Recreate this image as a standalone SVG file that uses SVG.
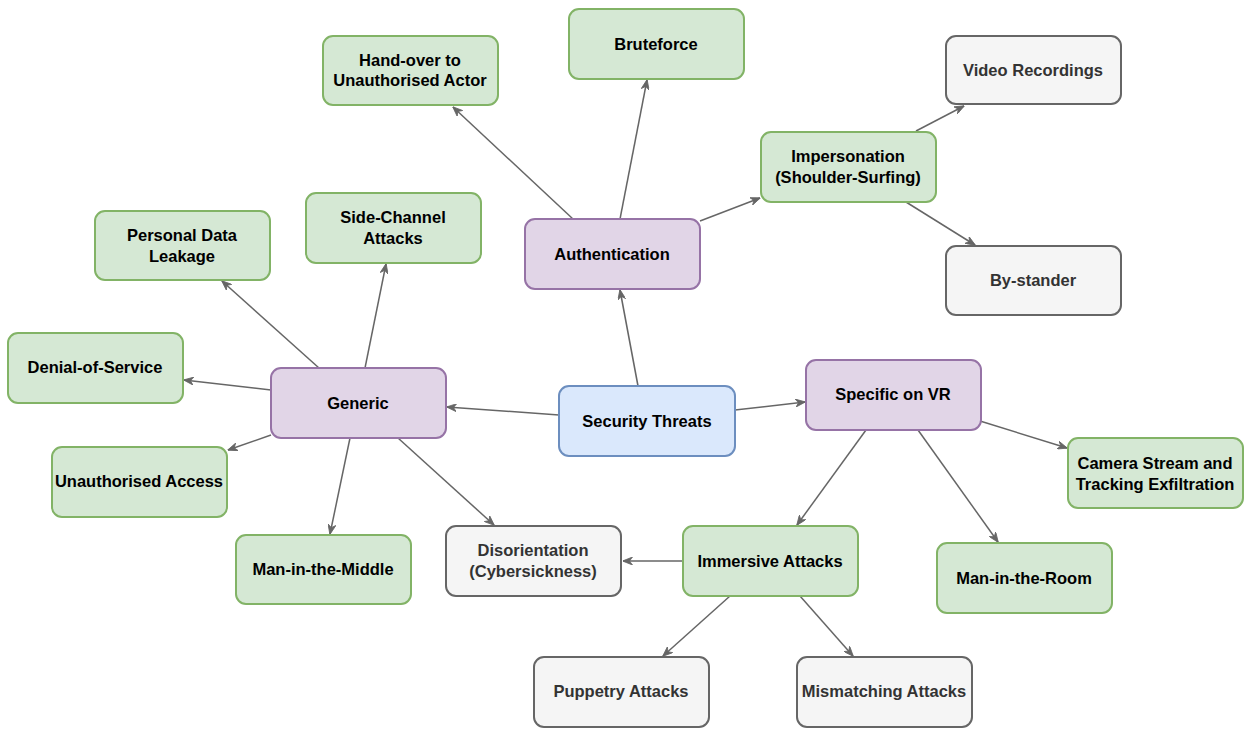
<svg xmlns="http://www.w3.org/2000/svg" width="1244" height="729" viewBox="0 0 1244 729">
<defs>
<marker id="arr" viewBox="0 0 10 8" refX="9.5" refY="4" markerWidth="10" markerHeight="8" markerUnits="userSpaceOnUse" orient="auto">
<path d="M0,0 L10,4 L0,8 L3,4 z" fill="#666666" stroke="#666666" stroke-width="0.8" stroke-linejoin="miter"/>
</marker>
</defs>
<style>
.n rect{stroke-width:2}
.g rect{fill:#d5e8d4;stroke:#82b366}
.p rect{fill:#e1d5e7;stroke:#9673a6}
.b rect{fill:#dae8fc;stroke:#6c8ebf}
.s rect{fill:#f5f5f5;stroke:#666666}
.n text{font-family:"Liberation Sans",Arial,sans-serif;font-weight:bold;font-size:16.5px;text-anchor:middle;fill:#000}
.s text{fill:#333333}
#edges line{stroke:#666666;stroke-width:1.5;fill:none;marker-end:url(#arr)}
</style>
<rect width="1244" height="729" fill="#ffffff"/>
<g id="edges">
<line x1="559" y1="415" x2="447" y2="407"/>
<line x1="638" y1="386" x2="620" y2="290"/>
<line x1="735" y1="410" x2="805" y2="402"/>
<line x1="573" y1="219" x2="453" y2="107"/>
<line x1="620" y1="219" x2="647" y2="80"/>
<line x1="700" y1="221" x2="760" y2="198"/>
<line x1="916" y1="131" x2="964" y2="106"/>
<line x1="906" y1="202" x2="975" y2="245"/>
<line x1="319" y1="368" x2="222" y2="281"/>
<line x1="365" y1="368" x2="386" y2="264"/>
<line x1="271" y1="390" x2="184" y2="380"/>
<line x1="271" y1="435" x2="228" y2="450"/>
<line x1="350" y1="438" x2="330" y2="534"/>
<line x1="398" y1="438" x2="494" y2="525"/>
<line x1="866" y1="430" x2="797" y2="525"/>
<line x1="918" y1="430" x2="998" y2="542"/>
<line x1="980" y1="421" x2="1067" y2="448"/>
<line x1="683" y1="561" x2="623" y2="561"/>
<line x1="730" y1="596" x2="663" y2="656"/>
<line x1="800" y1="596" x2="853" y2="656"/>
</g>
<g id="security-threats" class="n b"><rect x="559" y="386" width="176" height="70" rx="10"/><text x="647" y="427">Security Threats</text></g>
<g id="generic" class="n p"><rect x="271" y="368" width="175" height="70" rx="10"/><text x="358" y="409">Generic</text></g>
<g id="authentication" class="n p"><rect x="525" y="219" width="175" height="70" rx="10"/><text x="612" y="260">Authentication</text></g>
<g id="specific-vr" class="n p"><rect x="806" y="360" width="175" height="70" rx="10"/><text x="893" y="400">Specific on VR</text></g>
<g id="bruteforce" class="n g"><rect x="569" y="9" width="175" height="70" rx="10"/><text x="656" y="50">Bruteforce</text></g>
<g id="hand-over" class="n g"><rect x="323" y="36" width="175" height="69" rx="10"/><text x="410" y="66">Hand-over to</text><text x="410" y="86">Unauthorised Actor</text></g>
<g id="impersonation" class="n g"><rect x="761" y="132" width="175" height="70" rx="10"/><text x="848" y="162">Impersonation</text><text x="848" y="183">(Shoulder-Surfing)</text></g>
<g id="video-recordings" class="n s"><rect x="946" y="36" width="175" height="68" rx="10"/><text x="1033" y="76">Video Recordings</text></g>
<g id="by-stander" class="n s"><rect x="946" y="246" width="175" height="69" rx="10"/><text x="1033" y="286">By-stander</text></g>
<g id="side-channel" class="n g"><rect x="306" y="193" width="175" height="70" rx="10"/><text x="393" y="223">Side-Channel</text><text x="393" y="244">Attacks</text></g>
<g id="personal-data" class="n g"><rect x="95" y="211" width="175" height="69" rx="10"/><text x="182" y="241">Personal Data</text><text x="182" y="262">Leakage</text></g>
<g id="dos" class="n g"><rect x="8" y="333" width="175" height="70" rx="10"/><text x="95" y="373">Denial-of-Service</text></g>
<g id="unauth-access" class="n g"><rect x="52" y="447" width="175" height="70" rx="10"/><text x="139" y="487">Unauthorised Access</text></g>
<g id="mitm" class="n g"><rect x="236" y="535" width="175" height="69" rx="10"/><text x="323" y="575">Man-in-the-Middle</text></g>
<g id="disorientation" class="n s"><rect x="446" y="526" width="175" height="70" rx="10"/><text x="533" y="556">Disorientation</text><text x="533" y="577">(Cybersickness)</text></g>
<g id="immersive" class="n g"><rect x="683" y="526" width="175" height="70" rx="10"/><text x="770" y="567">Immersive Attacks</text></g>
<g id="mitr" class="n g"><rect x="937" y="543" width="175" height="70" rx="10"/><text x="1024" y="584">Man-in-the-Room</text></g>
<g id="camera" class="n g"><rect x="1068" y="438" width="175" height="70" rx="10"/><text x="1155" y="469">Camera Stream and</text><text x="1155" y="490">Tracking Exfiltration</text></g>
<g id="puppetry" class="n s"><rect x="534" y="657" width="175" height="70" rx="10"/><text x="621" y="697">Puppetry Attacks</text></g>
<g id="mismatching" class="n s"><rect x="797" y="657" width="175" height="70" rx="10"/><text x="884" y="697">Mismatching Attacks</text></g>
</svg>
